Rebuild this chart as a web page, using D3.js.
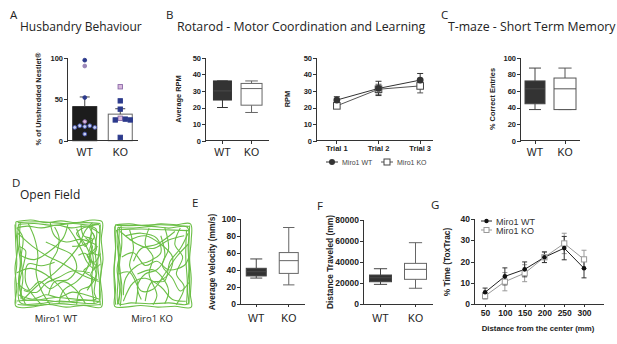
<!DOCTYPE html>
<html>
<head>
<meta charset="utf-8">
<script src="https://cdn.jsdelivr.net/npm/d3@7"></script>
<style>
  html, body { margin: 0; padding: 0; background: #fff; }
  svg { display: block; }
  .ttl { font-family: "Open Sans", sans-serif; fill: #222; }
  .ax text { font-family: "Liberation Sans", Arial, sans-serif; font-weight: bold; fill: #222; }
  .ax path, .ax line { stroke: #333; shape-rendering: crispEdges; }
  .cat { font-family: "Liberation Sans", Arial, sans-serif; fill: #222; }
  .ylab { font-family: "Liberation Sans", Arial, sans-serif; font-weight: bold; fill: #222; }
</style>
</head>
<body>
<div id="fig"></div>
<script>
(function(){
  'use strict';

  // data
  var groups = ['WT', 'KO'];

  // A - nestlet
  var nestletMean = [41, 32],
      nestletSem = [11.7, 6.5],
      nestletWT = [97, 90, 52, 23, 18, 18, 17, 16, 16, 8],
      nestletWTKind = ['n', 'm', 'n', 'p', 'o', 'o', 'o', 'o', 'o', 'o'],
      nestletKO = [65, 48, 38, 27, 26, 25, 25, 4],
      nestletKOKind = ['p', 'n', 'n', 'p', 'n', 'n', 'n', 'n'];

  // B - rotarod (min, q1, median, q3, max)
  var rotarodWT = [20, 24.5, 30, 36, 36],
      rotarodKO = [17, 21.4, 31.4, 34.5, 36];

  var trials = ['Trial 1', 'Trial 2', 'Trial 3'],
      rpmWT = [24.5, 31.5, 36.5],
      rpmWTErr = [2, 4.3, 4],
      rpmKO = [21, 31, 33],
      rpmKOErr = [1.5, 3, 4.2];

  // C - T-maze
  var tmazeWT = [37.5, 44.5, 62.5, 72, 87.5],
      tmazeKO = [37.5, 37.5, 62.5, 75.5, 87.5];

  // E, F - open field
  var velocityWT = [30.5, 33, 38, 42, 53],
      velocityKO = [22.5, 36, 51, 60.5, 90];
  var distanceWT = [18700, 21200, 25000, 27600, 33600],
      distanceKO = [15000, 23500, 33000, 38700, 58400];

  // G - time by distance from center
  var distBins = [50, 100, 150, 200, 250, 300],
      timeWT = [5.5, 13, 16.3, 22, 26.3, 16.8],
      timeWTErr = [2, 4, 3.5, 2.5, 5.5, 4.5],
      timeKO = [3.8, 10.5, 14.5, 22, 28.5, 21],
      timeKOErr = [1.5, 4.3, 4, 2.5, 4.8, 4.3];

  // D - traced tracks, arena coords 0-100
  var wtTrack = [
    [[1,2],[18,0],[35,3],[52,1],[70,3],[88,0],[99,2],[98,22],[100,45],[97,66],[99,86],[98,99],[78,97],[58,99],[38,96],[18,99],[1,98],[2,78],[0,55],[3,32],[1,12],[1,2]],
    [[4,5],[22,4],[44,6],[66,4],[86,6],[95,5],[96,28],[94,50],[96,72],[95,93],[72,94],[50,92],[28,95],[6,94],[4,70],[6,48],[3,24],[4,5]],
    [[2,9],[14,7],[30,9],[48,6],[64,9],[80,7],[92,10],[91,34],[93,58],[90,82],[92,90],[70,90],[46,88],[24,91],[8,89],[9,66],[7,42],[9,20],[2,9]],
    [[0,5],[1,30],[2,50],[0,70],[1,95]],
    [[6,3],[5,25],[7,45],[5,65],[7,90]],
    [[3,96],[25,97],[50,95],[75,97],[97,96]],
    [[2,92],[30,91],[55,93],[80,91],[97,93]],
    [[3,3],[30,2],[55,4],[80,3],[97,4]],
    [[97,5],[96,30],[98,55],[96,80],[97,97]],
    [[88,5],[86,25],[89,45],[87,70],[90,95]],
    [[3,15],[20,30],[35,40],[55,50],[75,62],[95,70]],
    [[8,92],[25,75],[45,60],[60,45],[72,30],[80,12],[88,3]],
    [[2,60],[18,55],[35,62],[50,75],[62,92]],
    [[15,4],[22,20],[26,40],[24,60],[30,80],[40,96]],
    [[40,3],[45,18],[58,25],[75,22],[92,28]],
    [[6,40],[22,45],[40,35],[55,20],[60,5]],
    [[50,95],[55,80],[70,70],[82,55],[85,40],[78,25],[70,15],[82,8],[96,15]],
    [[60,8],[68,20],[76,35],[82,48],[90,55],[97,50]],
    [[75,5],[78,18],[88,22],[85,35],[95,40]],
    [[30,96],[20,85],[12,70],[15,50],[30,52],[45,48]],
    [[96,90],[80,85],[65,82],[50,88],[35,85],[20,90],[4,85]],
    [[70,96],[74,80],[85,75],[92,62],[86,40],[94,30]],
    [[5,30],[12,35],[10,50],[5,75],[12,96]],
    [[35,25],[50,32],[65,40],[70,55],[60,68],[45,70],[38,85]],
    [[70,10],[80,30],[88,15],[92,35],[82,40],[90,48],[97,38]],
    [[65,30],[78,28],[90,20],[85,8],[95,5]],
    [[3,72],[15,80],[28,70],[40,78],[55,70],[68,78],[80,95]],
    [[80,20],[88,30],[84,45],[92,52],[86,62],[94,68]],
    [[72,40],[80,38],[86,50],[78,58],[88,66],[82,80]],
    [[10,80],[25,82],[35,72],[50,65],[65,58],[85,60]],
    [[45,8],[50,20],[48,35],[40,50],[42,70]]
  ];

  var koTrack = [
    [[2,2],[20,1],[40,3],[60,1],[80,2],[98,1],[99,20],[97,42],[99,65],[98,85],[99,99],[78,98],[56,99],[34,97],[14,99],[1,98],[2,78],[0,55],[2,30],[1,10],[2,2]],
    [[5,5],[25,6],[48,4],[70,6],[94,5],[95,30],[96,55],[94,80],[95,95],[70,94],[45,95],[22,94],[6,95],[5,70],[6,44],[4,22],[5,5]],
    [[3,8],[8,30],[4,55],[8,80],[4,96]],
    [[9,3],[10,25],[7,50],[10,75],[8,98]],
    [[1,4],[2,30],[0,60],[2,96]],
    [[7,5],[6,35],[8,65],[6,95]],
    [[3,3],[30,3],[60,2],[96,4]],
    [[4,8],[35,7],[65,8],[95,9]],
    [[97,3],[96,30],[97,60],[96,96]],
    [[93,8],[92,40],[94,70],[93,95]],
    [[8,10],[30,25],[50,30],[70,20],[90,15]],
    [[10,40],[25,35],[40,50],[55,45],[70,55],[90,50],[96,40]],
    [[12,92],[25,70],[40,65],[60,75],[75,90],[92,92]],
    [[20,8],[25,30],[20,50],[30,70],[28,95]],
    [[45,6],[40,25],[50,40],[45,60],[55,85],[50,96]],
    [[65,5],[70,30],[62,50],[75,65],[85,80],[96,70]],
    [[85,6],[78,25],[88,40],[80,60],[90,75],[80,96]],
    [[6,60],[20,58],[35,80],[50,78],[65,60],[80,40],[95,25]],
    [[15,15],[35,12],[55,18],[60,35],[45,45],[30,50],[15,65],[12,85]],
    [[40,92],[48,70],[65,68],[72,45],[85,30],[95,12]],
    [[25,45],[35,30],[55,25],[78,10]],
    [[30,60],[50,55],[60,62],[70,80],[65,95]],
    [[20,20],[40,15],[60,25],[75,40],[70,60],[55,70]],
    [[35,90],[30,75],[40,60],[55,55],[65,40],[60,15]]
  ];

  var svg = d3.select('#fig').append('svg')
    .attr('width', 617)
    .attr('height', 344);

  var dotColors = {
    n: {fill: '#2c3a8c', stroke: '#2c3a8c'},
    m: {fill: '#9a86b8', stroke: '#9a86b8'},
    p: {fill: '#d9b8dc', stroke: '#8a6aa8'},
    o: {fill: '#c9cff0', stroke: '#4656b0'}
  };

  // panel letters + titles
  function label(x, y, txt, size) {
    svg.append('text').attr('class', 'ttl')
      .attr('x', x).attr('y', y)
      .style('font-size', size + 'px')
      .text(txt);
  }
  label(10, 19, 'A', 11.5);
  label(20, 31, 'Husbandry Behaviour', 12);
  label(166, 19, 'B', 11.5);
  label(177, 31, 'Rotarod - Motor Coordination and Learning', 12.3);
  label(441, 19, 'C', 11.5);
  label(448, 31, 'T-maze - Short Term Memory', 12.3);
  label(12, 187, 'D', 11.5);
  label(20, 199, 'Open Field', 12);
  label(192, 207, 'E', 11.5);
  label(317, 210, 'F', 11.5);
  label(431, 209, 'G', 11.5);

  function yAxis(x, y, vals, fs, fmt) {
    var g = svg.append('g')
      .attr('class', 'ax')
      .attr('transform', 'translate(' + x + ',0)')
      .call(d3.axisLeft(y).tickValues(vals).tickSize(3).tickPadding(1)
        .tickFormat(fmt || function(d) { return d; }));
    g.selectAll('text').style('font-size', fs + 'px');
    return g;
  }

  function xBase(x0, x1, y, ticks) {
    var g = svg.append('g').attr('class', 'ax');
    g.append('line').attr('x1', x0).attr('x2', x1).attr('y1', y).attr('y2', y);
    (ticks || []).forEach(function(t) {
      g.append('line').attr('x1', t).attr('x2', t).attr('y1', y).attr('y2', y + 3);
    });
  }

  function yLabel(x, yc, txt, fs) {
    svg.append('text').attr('class', 'ylab')
      .attr('transform', 'translate(' + x + ',' + yc + ') rotate(-90)')
      .attr('text-anchor', 'middle')
      .attr('dy', '0.35em')
      .style('font-size', fs + 'px')
      .text(txt);
  }

  function catLabels(x, y, fs) {
    groups.forEach(function(gname) {
      svg.append('text').attr('class', 'cat')
        .attr('x', x(gname)).attr('y', y)
        .attr('text-anchor', 'middle')
        .style('font-size', fs + 'px')
        .text(gname);
    });
  }

  function boxPlot(x, y, gname, d, w, fill, stroke) {
    var cx = x(gname), cap = w * 0.6;
    var g = svg.append('g');
    g.append('line').attr('x1', cx).attr('x2', cx).attr('y1', y(d[0])).attr('y2', y(d[1])).style('stroke', stroke);
    g.append('line').attr('x1', cx).attr('x2', cx).attr('y1', y(d[3])).attr('y2', y(d[4])).style('stroke', stroke);
    g.append('line').attr('x1', cx - cap / 2).attr('x2', cx + cap / 2).attr('y1', y(d[0])).attr('y2', y(d[0])).style('stroke', stroke);
    g.append('line').attr('x1', cx - cap / 2).attr('x2', cx + cap / 2).attr('y1', y(d[4])).attr('y2', y(d[4])).style('stroke', stroke);
    g.append('rect')
      .attr('x', cx - w / 2).attr('width', w)
      .attr('y', y(d[3])).attr('height', Math.max(0.5, y(d[1]) - y(d[3])))
      .style('fill', fill).style('stroke', stroke);
    g.append('line').attr('x1', cx - w / 2).attr('x2', cx + w / 2).attr('y1', y(d[2])).attr('y2', y(d[2]))
      .style('stroke', fill === '#fff' ? stroke : '#4a4a4a');
  }

  // ---------- A ----------
  var yA = d3.scaleLinear().domain([0, 100]).range([140.7, 57.7]);
  var xA = d3.scalePoint().domain(groups).range([67, 138]).padding(0.5);
  var barW = 24;

  groups.forEach(function(gname, i) {
    var cx = xA(gname);
    svg.append('rect')
      .attr('x', cx - barW / 2).attr('width', barW)
      .attr('y', yA(nestletMean[i])).attr('height', yA(0) - yA(nestletMean[i]))
      .style('fill', i === 0 ? '#1c1c1c' : '#fff')
      .style('stroke', i === 0 ? '#1c1c1c' : '#666');
    var top = yA(nestletMean[i] + nestletSem[i]);
    svg.append('line').attr('x1', cx).attr('x2', cx).attr('y1', top).attr('y2', yA(nestletMean[i]))
      .style('stroke', '#444');
    svg.append('line').attr('x1', cx - 5).attr('x2', cx + 5).attr('y1', top).attr('y2', top)
      .style('stroke', '#444');
  });

  function swarm(vals, cx) {
    var placed = [], offs = [0, 5, -5, 10, -10, 15, -15];
    return vals.map(function(v) {
      var py = yA(v), px = cx;
      for (var k = 0; k < offs.length; k++) {
        var tx = cx + offs[k];
        var ok = placed.every(function(p) {
          return Math.hypot(p[0] - tx, p[1] - py) > 4.6;
        });
        if (ok) { px = tx; break; }
      }
      placed.push([px, py]);
      return [px, py];
    });
  }

  swarm(nestletWT, xA('WT')).forEach(function(p, i) {
    var c = dotColors[nestletWTKind[i]];
    svg.append('circle').attr('cx', p[0]).attr('cy', p[1]).attr('r', 1.9)
      .style('fill', c.fill).style('stroke', c.stroke).style('stroke-width', 0.9);
  });
  swarm(nestletKO, xA('KO')).forEach(function(p, i) {
    var c = dotColors[nestletKOKind[i]];
    svg.append('rect').attr('x', p[0] - 2.2).attr('y', p[1] - 2.2).attr('width', 4.4).attr('height', 4.4)
      .style('fill', c.fill).style('stroke', c.stroke).style('stroke-width', 0.9);
  });

  yAxis(67, yA, [0, 50, 100], 7.5);
  xBase(67, 138, yA(0), []);
  yLabel(38, 99, '% of Unshredded Nestlet\u00ae', 7.4);
  catLabels(xA, 156, 10.5);

  // ---------- B (box) ----------
  var yB = d3.scaleLinear().domain([0, 50]).range([140.7, 57.7]);
  var xB = d3.scalePoint().domain(groups).range([205, 269]).padding(0.6);
  boxPlot(xB, yB, 'WT', rotarodWT, 18, '#333', '#333');
  boxPlot(xB, yB, 'KO', rotarodKO, 21, '#fff', '#666');
  yAxis(205, yB, [0, 10, 20, 30, 40, 50], 7.5);
  xBase(205, 269, yB(0), [xB('WT'), xB('KO')]);
  yLabel(178, 99, 'Average RPM', 7.4);
  catLabels(xB, 156, 10.5);

  // ---------- B (line) ----------
  var yB2 = d3.scaleLinear().domain([0, 50]).range([140.7, 57.7]);
  var xB2 = d3.scalePoint().domain(trials).range([316, 441]).padding(0.5);

  function errBars(xs, ys, err, x, y, color, cw) {
    xs.forEach(function(xv, i) {
      var cx = x(xv), t = y(ys[i] + err[i]), b = y(ys[i] - err[i]);
      svg.append('line').attr('x1', cx).attr('x2', cx).attr('y1', t).attr('y2', b).style('stroke', color);
      svg.append('line').attr('x1', cx - cw).attr('x2', cx + cw).attr('y1', t).attr('y2', t).style('stroke', color);
      svg.append('line').attr('x1', cx - cw).attr('x2', cx + cw).attr('y1', b).attr('y2', b).style('stroke', color);
    });
  }

  var lineB = function(vals) {
    return d3.line().x(function(d, i) { return xB2(trials[i]); })
      .y(function(d) { return yB2(d); })(vals);
  };
  errBars(trials, rpmKO, rpmKOErr, xB2, yB2, '#555', 3);
  errBars(trials, rpmWT, rpmWTErr, xB2, yB2, '#333', 3);
  svg.append('path').attr('d', lineB(rpmKO)).style('fill', 'none').style('stroke', '#555');
  svg.append('path').attr('d', lineB(rpmWT)).style('fill', 'none').style('stroke', '#333');
  rpmKO.forEach(function(v, i) {
    svg.append('rect').attr('x', xB2(trials[i]) - 3.3).attr('y', yB2(v) - 3.3)
      .attr('width', 6.6).attr('height', 6.6)
      .style('fill', '#fff').style('stroke', '#444');
  });
  rpmWT.forEach(function(v, i) {
    svg.append('circle').attr('cx', xB2(trials[i])).attr('cy', yB2(v)).attr('r', 3.4)
      .style('fill', '#333');
  });

  yAxis(316, yB2, [0, 10, 20, 30, 40, 50], 7.5);
  var gxb = svg.append('g').attr('class', 'ax');
  gxb.append('line').attr('x1', 316).attr('x2', 433).attr('y1', yB2(0)).attr('y2', yB2(0));
  trials.forEach(function(t) {
    gxb.append('line').attr('x1', xB2(t)).attr('x2', xB2(t)).attr('y1', yB2(0)).attr('y2', yB2(0) + 3);
    gxb.append('text').attr('x', xB2(t)).attr('y', yB2(0) + 10)
      .attr('text-anchor', 'middle').style('font-size', '7.5px').text(t);
  });
  yLabel(287, 99, 'RPM', 7.4);

  // legend B
  var lgB = svg.append('g');
  lgB.append('line').attr('x1', 326).attr('x2', 338).attr('y1', 162).attr('y2', 162).style('stroke', '#333');
  lgB.append('circle').attr('cx', 332).attr('cy', 162).attr('r', 3).style('fill', '#333');
  lgB.append('text').attr('class', 'cat').attr('x', 342).attr('y', 164.5).style('font-size', '7px').style('fill', '#444').text('Miro1 WT');
  lgB.append('line').attr('x1', 381).attr('x2', 393).attr('y1', 162).attr('y2', 162).style('stroke', '#555');
  lgB.append('rect').attr('x', 384).attr('y', 159).attr('width', 6).attr('height', 6).style('fill', '#fff').style('stroke', '#444');
  lgB.append('text').attr('class', 'cat').attr('x', 397).attr('y', 164.5).style('font-size', '7px').style('fill', '#444').text('Miro1 KO');

  // ---------- C ----------
  var yC = d3.scaleLinear().domain([0, 100]).range([140.7, 57.7]);
  var xC = d3.scalePoint().domain(groups).range([520, 580]).padding(0.5);
  boxPlot(xC, yC, 'WT', tmazeWT, 20, '#333', '#444');
  boxPlot(xC, yC, 'KO', tmazeKO, 22, '#fff', '#555');
  yAxis(520, yC, [0, 20, 40, 60, 80, 100], 7.5);
  xBase(520, 580, yC(0), [xC('WT'), xC('KO')]);
  yLabel(492, 99, '% Correct Entries', 7.4);
  catLabels(xC, 156, 10.5);

  // ---------- D ----------
  function drawTrack(track, x0, x1, y0, y1) {
    var tx = d3.scaleLinear().domain([0, 100]).range([x0, x1]);
    var ty = d3.scaleLinear().domain([0, 100]).range([y0, y1]);
    var ln = d3.line().x(function(d) { return tx(d[0]); }).y(function(d) { return ty(d[1]); })
      .curve(d3.curveCatmullRom.alpha(0.5));
    svg.append('g').selectAll('path')
      .data(track)
      .enter()
      .append('path')
      .attr('d', ln)
      .style('fill', 'none')
      .style('stroke', '#6cbf47')
      .style('stroke-width', 1.1)
      .style('stroke-linejoin', 'round');
  }
  drawTrack(wtTrack, 15, 103, 220, 308);
  drawTrack(koTrack, 114, 192, 223, 308);
  svg.append('text').attr('class', 'ttl').attr('x', 56).attr('y', 322).attr('text-anchor', 'middle')
    .style('font-size', '9.5px').text('Miro1 WT');
  svg.append('text').attr('class', 'ttl').attr('x', 152).attr('y', 322).attr('text-anchor', 'middle')
    .style('font-size', '9.5px').text('Miro1 KO');

  // ---------- E ----------
  var yE = d3.scaleLinear().domain([0, 100]).range([304, 219]);
  var xE = d3.scalePoint().domain(groups).range([240, 305]).padding(0.5);
  boxPlot(xE, yE, 'WT', velocityWT, 20, '#333', '#444');
  boxPlot(xE, yE, 'KO', velocityKO, 19, '#fff', '#666');
  yAxis(240, yE, [0, 20, 40, 60, 80, 100], 8.5);
  xBase(240, 305, yE(0), [xE('WT'), xE('KO')]);
  yLabel(212, 262, 'Average Velocity (mm/s)', 8.4);
  catLabels(xE, 322, 10.5);

  // ---------- F ----------
  var yF = d3.scaleLinear().domain([0, 80000]).range([304, 220]);
  var xF = d3.scalePoint().domain(groups).range([363, 433]).padding(0.5);
  boxPlot(xF, yF, 'WT', distanceWT, 22, '#333', '#444');
  boxPlot(xF, yF, 'KO', distanceKO, 22, '#fff', '#666');
  yAxis(363, yF, [0, 20000, 40000, 60000, 80000], 8.5);
  xBase(363, 433, yF(0), [xF('WT'), xF('KO')]);
  yLabel(330, 262, 'Distance Traveled (mm)', 8.4);
  catLabels(xF, 322, 10.5);

  // ---------- G ----------
  var yG = d3.scaleLinear().domain([0, 40]).range([304, 219]);
  var xG = d3.scaleLinear().domain([22, 348]).range([474, 603]);
  var lineG = function(vals) {
    return d3.line().x(function(d, i) { return xG(distBins[i]); })
      .y(function(d) { return yG(d); })(vals);
  };
  errBars(distBins, timeKO, timeKOErr, xG, yG, '#999', 2.5);
  errBars(distBins, timeWT, timeWTErr, xG, yG, '#333', 2.5);
  svg.append('path').attr('d', lineG(timeKO)).style('fill', 'none').style('stroke', '#999');
  svg.append('path').attr('d', lineG(timeWT)).style('fill', 'none').style('stroke', '#222');
  timeKO.forEach(function(v, i) {
    svg.append('rect').attr('x', xG(distBins[i]) - 2.6).attr('y', yG(v) - 2.6)
      .attr('width', 5.2).attr('height', 5.2)
      .style('fill', '#fff').style('stroke', '#999');
  });
  timeWT.forEach(function(v, i) {
    svg.append('circle').attr('cx', xG(distBins[i])).attr('cy', yG(v)).attr('r', 2.3)
      .style('fill', '#111');
  });
  yAxis(474, yG, [0, 10, 20, 30, 40], 8.5);
  var gxg = svg.append('g')
    .attr('class', 'ax')
    .attr('transform', 'translate(0,' + yG(0) + ')')
    .call(d3.axisBottom(xG).tickValues(distBins).tickSize(3).tickPadding(3).tickSizeOuter(0));
  gxg.selectAll('text').style('font-size', '8.5px');
  yLabel(447, 262, '% Time (ToxTrac)', 8.4);
  svg.append('text').attr('class', 'ylab').attr('x', 538).attr('y', 331).attr('text-anchor', 'middle')
    .style('font-size', '7.8px').text('Distance from the center (mm)');

  // legend G
  var lgG = svg.append('g');
  lgG.append('line').attr('x1', 481).attr('x2', 492).attr('y1', 221).attr('y2', 221).style('stroke', '#222');
  lgG.append('circle').attr('cx', 486.5).attr('cy', 221).attr('r', 2.2).style('fill', '#111');
  lgG.append('text').attr('class', 'cat').attr('x', 496).attr('y', 224.5).style('font-size', '9px').style('fill', '#333').text('Miro1 WT');
  lgG.append('line').attr('x1', 481).attr('x2', 492).attr('y1', 230).attr('y2', 230).style('stroke', '#999');
  lgG.append('rect').attr('x', 484).attr('y', 227.5).attr('width', 5).attr('height', 5).style('fill', '#fff').style('stroke', '#999');
  lgG.append('text').attr('class', 'cat').attr('x', 496).attr('y', 233.5).style('font-size', '9px').style('fill', '#333').text('Miro1 KO');

}());
</script>
</body>
</html>
